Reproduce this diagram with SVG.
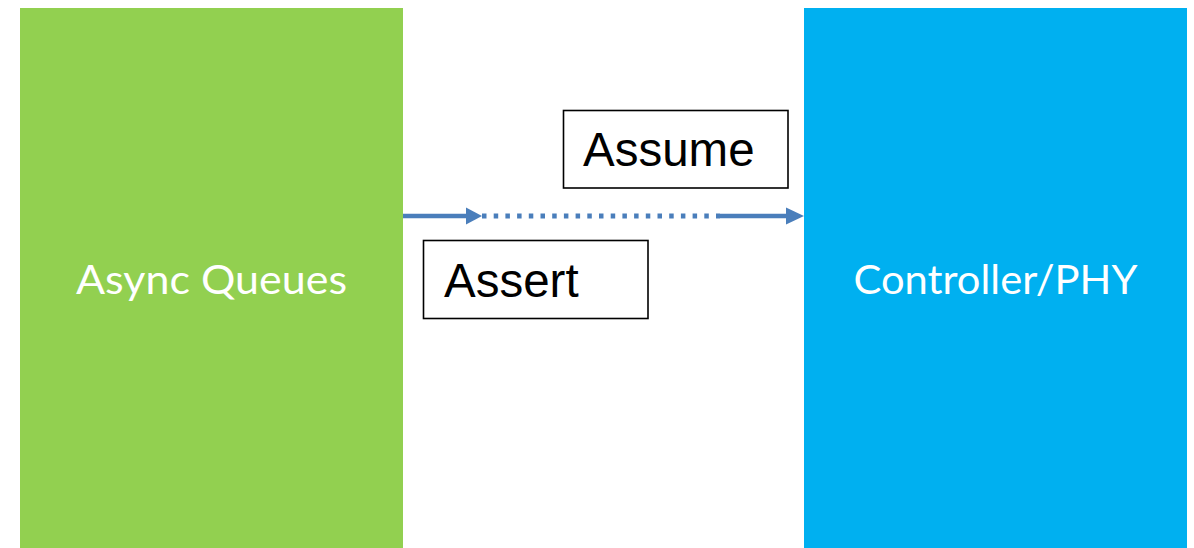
<svg xmlns="http://www.w3.org/2000/svg" width="1194" height="548" viewBox="0 0 1194 548">
  <style>
    .block-label { font-family: Lato, "Open Sans", sans-serif; font-size: 40px; fill: #ffffff; text-anchor: middle; }
    .tag-box { fill: #ffffff; stroke: #000000; stroke-width: 1.6; }
    .tag-text { font-family: "Liberation Sans", Arial, sans-serif; font-size: 47.5px; fill: #000000; }
    .wire { stroke: #4A7EBB; stroke-width: 4.5; fill: none; }
    .dots { stroke: #4A7EBB; stroke-width: 5; fill: none; stroke-dasharray: 4.5 7.2; }
    .head { fill: #4A7EBB; }
  </style>
  <rect width="1194" height="548" fill="#ffffff"/>

  <g id="async-queues">
    <rect x="20" y="8" width="383" height="540" fill="#92D050"/>
    <text class="block-label" x="211.5" y="294" textLength="271" lengthAdjust="spacingAndGlyphs">Async Queues</text>
  </g>

  <g id="controller-phy">
    <rect x="804" y="8" width="383" height="540" fill="#00B0F0"/>
    <text class="block-label" x="995.5" y="294" textLength="284" lengthAdjust="spacingAndGlyphs">Controller/PHY</text>
  </g>

  <g id="connectors">
    <line class="wire" x1="403" y1="216" x2="468" y2="216"/>
    <polygon class="head" points="466,207.5 482,216 466,224.5"/>
    <line class="dots" x1="482" y1="216" x2="720" y2="216"/>
    <line class="wire" x1="720" y1="216" x2="788" y2="216"/>
    <polygon class="head" points="786,207.5 804,216 786,224.5"/>
  </g>

  <g id="assume">
    <rect class="tag-box" x="563.5" y="110.5" width="224.5" height="77.5"/>
    <text class="tag-text" x="583" y="165.5">Assume</text>
  </g>

  <g id="assert">
    <rect class="tag-box" x="423.5" y="240.5" width="224.5" height="78"/>
    <text class="tag-text" x="444" y="296.5">Assert</text>
  </g>
</svg>
